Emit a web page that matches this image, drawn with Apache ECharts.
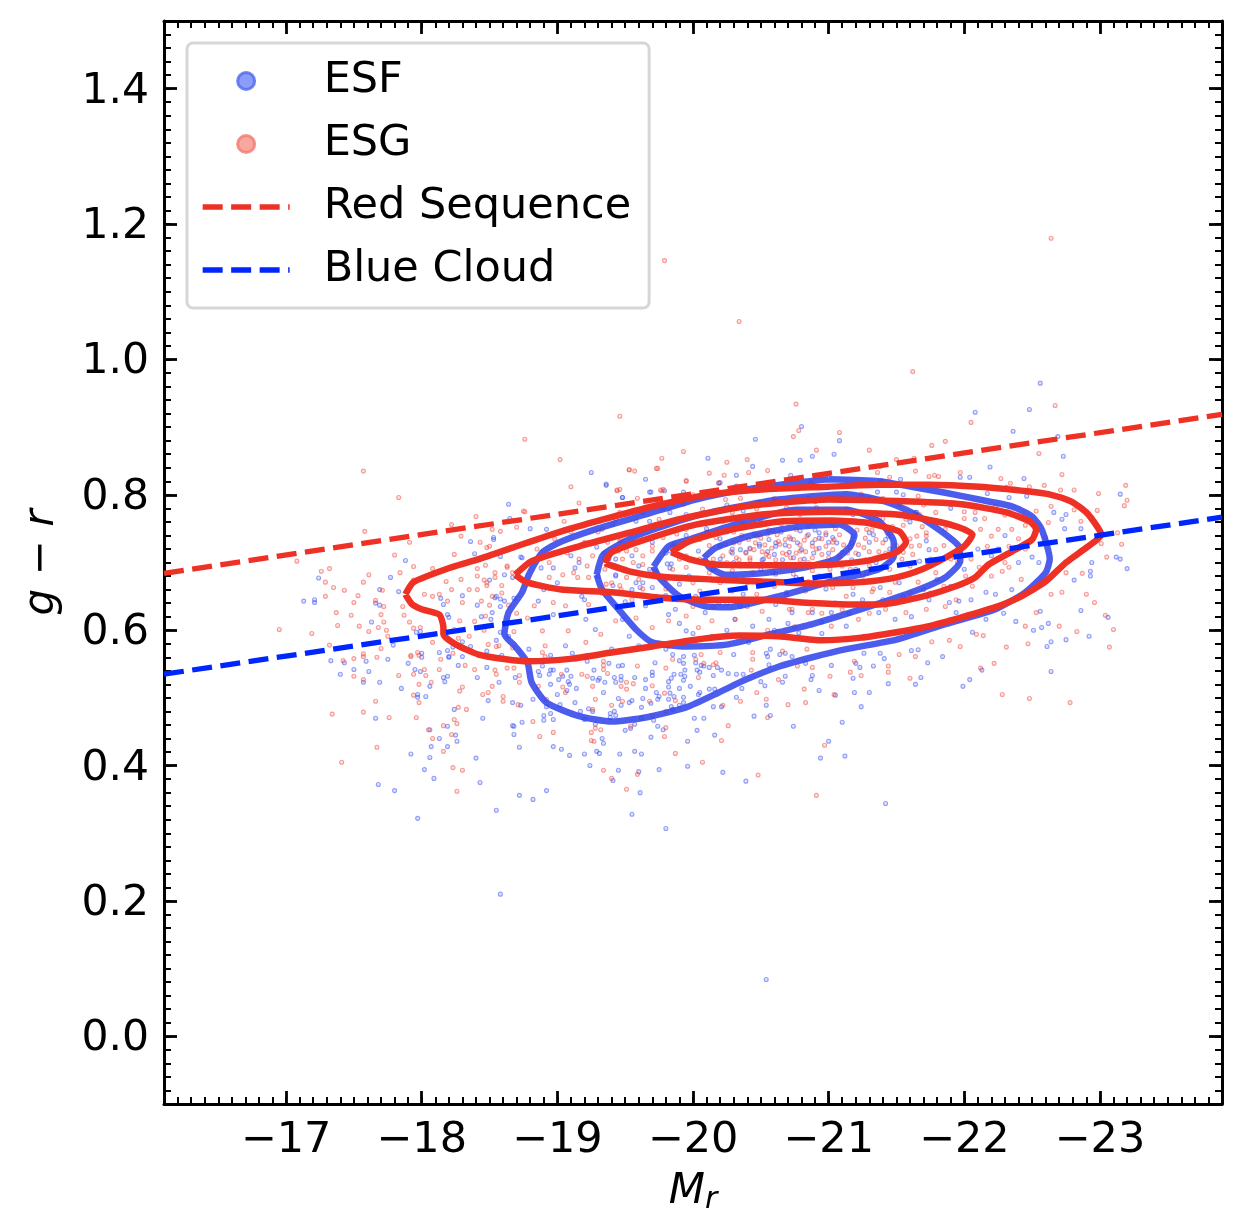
<!DOCTYPE html>
<html>
<head>
<meta charset="utf-8">
<title>g-r vs Mr</title>
<script src="https://cdn.jsdelivr.net/npm/echarts@6/dist/echarts.min.js"></script>
<style>
html, body { margin: 0; background: #fff; }
#chart { width: 1250px; height: 1230px; }
</style>
</head>
<body>
<div id="chart"></div>
<script>
// points as [Mr, g-r]
var esfPoints = [
[-18.64,.786],[-18.65,.765],[-18.36,.731],[-18.53,.734],[-17.88,.703],[-18.39,.713],[-18.58,.709],[-18.73,.708],[-17.24,.677],[-17.77,.678],
[-17.69,.66],[-17.83,.657],[-17.13,.643],[-17.21,.645],[-17.21,.641],[-17.66,.64],[-17.69,.637],[-18.14,.647],[-18.16,.638],[-18.30,.651],
[-18.41,.637],[-18.50,.674],[-18.61,.682],[-18.67,.678],[-18.55,.65],[-18.61,.643],[-18.68,.647],[-18.58,.635],[-18.52,.626],[-18.19,.623],
[-18.20,.619],[-18.44,.62],[-17.63,.612],[-17.99,.598],[-17.96,.597],[-17.79,.578],[-18.13,.567],[-18.19,.57],[-18.20,.561],[-18.00,.566],
[-18.48,.569],[-18.58,.597],[-18.64,.591],[-18.55,.585],[-18.36,.576],[-18.23,.575],[-18.30,.583],
[-17.33,.555],[-17.43,.552],[-17.59,.554],[-17.75,.557],[-17.90,.551],[-18.00,.56],[-17.50,.542],[-17.40,.535],[-17.61,.539],[-17.57,.523],
[-17.69,.523],[-17.85,.514],[-17.95,.542],[-17.99,.539],[-18.16,.53],[-18.19,.532],[-18.17,.524],[-18.06,.517],[-17.97,.505],[-17.97,.501],
[-18.03,.502],[-18.27,.548],[-18.20,.56],[-18.30,.561],[-18.41,.53],[-18.57,.523],[-18.49,.496],[-18.67,.493],[-18.73,.489],[-18.82,.498],
[-18.69,.53],[-18.48,.545],[-17.66,.47],[-18.24,.483],[-18.45,.47],[-18.19,.458],[-18.67,.459],[-18.68,.458],[-18.74,.464],[-18.25,.445],
[-18.26,.436],[-18.68,.446],[-18.06,.453],[-18.13,.44],[-18.07,.428],[-18.19,.428],[-18.72,.427],[-17.92,.417],[-18.06,.412],[-18.40,.411],
[-18.02,.394],[-18.09,.381],[-18.43,.375],[-17.68,.372],[-17.80,.363],[-17.97,.322],[-18.55,.334],[-18.72,.356],[-18.82,.35],[-18.92,.363],
[-18.97,.428],[-19.03,.424],[-19.09,.415],[-19.20,.417],[-19.29,.421],[-19.31,.418],[-19.24,.4],[-19.33,.44],[-19.34,.433],[-18.97,.468],
[-18.90,.474],[-18.90,.467],[-18.95,.477],[-19.13,.493],[-19.02,.49],[-18.92,.487],[-19.17,.48],[-19.23,.484],[-19.20,.468],[-19.26,.48],
[-19.28,.461],[-19.39,.477],[-19.42,.48],[-19.34,.508],[-19.14,.514],[-19.00,.505],[-19.07,.511],[-19.09,.52],[-19.08,.524],[-18.95,.52],
[-19.01,.527],[-19.04,.532],[-19.10,.532],[-18.94,.535],[-18.87,.533],[-18.86,.539],[-18.95,.541],[-18.97,.541],[-19.07,.541],[-19.27,.541],
[-19.26,.529],[-19.30,.526],[-19.31,.529],[-19.35,.523],[-19.43,.523],[-19.42,.53],[-19.38,.551],[-19.22,.554],[-19.11,.566],[-18.95,.563],
[-18.89,.547],[-18.59,.563],
[-19.45,.547],[-19.48,.548],[-19.47,.532],[-19.47,.526],[-19.57,.53],[-19.65,.527],[-19.65,.514],[-19.45,.499],[-19.63,.499],[-19.53,.493],
[-19.55,.496],[-19.69,.492],[-19.47,.489],[-19.62,.486],[-19.43,.474],[-19.39,.471],[-19.62,.47],[-19.57,.461],[-19.71,.467],[-19.74,.458],
[-19.78,.453],[-19.50,.452],[-19.54,.455],[-19.69,.442],[-19.46,.417],[-19.57,.421],[-19.62,.417],[-19.45,.393],[-19.60,.391],[-19.75,.394],
[-19.41,.378],[-19.61,.36],[-19.55,.328],[-19.80,.307],[-19.96,.399],[-19.96,.436],[-20.03,.452],[-20.16,.445],[-20.01,.47],[-20.08,.47],
[-20.22,.39],[-20.39,.377],[-20.45,.473],[-20.57,.474],[-20.74,.458],[-21.10,.464],[-21.00,.436],[-20.94,.411],[-21.12,.414],[-21.42,.344],
[-21.24,.487],[-21.05,.504],[-21.19,.508],[-21.30,.508],[-20.93,.511],[-20.87,.527],[-20.88,.533],[-20.66,.523],[-20.68,.532],[-20.53,.518],
[-20.50,.524],[-20.32,.501],[-20.54,.489],[-20.21,.487],[-20.15,.487],[-20.36,.514],[-20.16,.513],[-20.12,.513],[-20.05,.508],[-20.04,.505],
[-19.98,.517],[-19.90,.514],[-19.82,.516],[-19.82,.524],[-19.84,.529],[-19.93,.526],[-19.94,.532],[-19.91,.535],[-19.86,.535],[-19.70,.538],
[-19.70,.533],[-19.73,.508],[-19.75,.502],[-19.74,.498],[-19.82,.498],[-19.83,.507],[-19.86,.502],[-19.93,.501],[-19.93,.493],[-19.84,.487],
[-19.90,.489],[-19.85,.483],[-19.72,.552],[-19.90,.555],[-19.93,.551],[-19.85,.564],[-19.93,.561],[-20.02,.552],[-20.06,.548],[-19.94,.541],
[-20.03,.541],[-20.05,.538],[-20.12,.545],[-20.08,.547],[-20.18,.545],[-20.21,.541],[-20.15,.533],[-20.26,.536],[-20.32,.535],[-20.37,.535],
[-20.30,.564],[-20.01,.563],[-20.56,.549],[-20.54,.566],[-20.55,.561],[-20.64,.564],[-20.68,.566],[-20.73,.561],[-20.83,.551],[-21.02,.548],
[-21.20,.551],[-21.23,.545],[-21.33,.547],[-21.18,.529],[-21.44,.521],[-21.64,.52],[-21.41,.558],[-21.61,.57],[-21.26,.566],[-21.38,.566],
[-19.25,.833],[-19.36,.814],[-19.65,.823],[-19.68,.804],[-19.79,.806],[-19.48,.796],[-19.93,.804],[-20.11,.854],[-20.19,.817],[-20.32,.829],
[-20.44,.842],[-20.46,.882],[-20.80,.901],[-20.66,.851],[-20.79,.851],[-20.88,.857],[-21.04,.86],[-21.08,.88],[-20.72,.829],[-20.83,.813],
[-22.56,.965],[-22.48,.926],[-22.08,.922],[-22.36,.894],[-22.69,.886],[-22.73,.857],[-22.19,.841],[-21.97,.826],[-22.04,.826],[-22.44,.824],
[-21.53,.823],[-21.39,.821],[-23.15,.801],[-22.31,.811],[-21.50,.804],[-21.36,.804],[-22.17,.802],
[-23.12,.708],[-23.15,.705],[-23.20,.691],[-23.06,.619],[-22.92,.591],[-22.75,.586],[-22.86,.629],[-22.64,.539],[-22.64,.583],[-22.61,.576],
[-22.62,.61],[-22.57,.604],[-22.51,.6],[-22.56,.628],[-22.38,.613],[-22.29,.625],[-22.16,.616],[-22.06,.597],[-22.04,.527],[-21.99,.517],
[-22.13,.541],[-21.84,.561],[-21.73,.552],[-21.68,.53],[-21.66,.571],[-22.81,.674],[-22.93,.687],[-22.93,.68],[-22.94,.7],[-22.86,.75],
[-22.74,.75],[-22.72,.764],[-22.75,.771],[-22.66,.774],[-22.46,.798],[-22.33,.796],[-22.55,.7],[-22.50,.708],[-22.23,.653],[-22.16,.656],
[-22.08,.764],[-22.05,.645],[-21.94,.626],[-21.89,.641],[-21.96,.643],[-21.74,.645],[-21.61,.62],[-21.49,.616],[-21.37,.626],[-21.13,.606],
[-20.95,.612],[-20.88,.626],[-21.02,.626],[-21.74,.719],[-21.83,.705],[-21.64,.774],
[-20.35,.719],[-20.29,.714],[-20.49,.724],[-20.56,.734],[-20.68,.726],[-20.77,.729],[-20.85,.741],[-20.93,.736],[-20.98,.741],[-20.80,.719],
[-20.89,.714],[-20.74,.707],[-20.66,.704],[-20.51,.704],[-21.06,.729],[-21.0,.714],[-20.93,.721],[-20.61,.724],[-20.42,.721],[-20.55,.716],
[-21.30,.744],[-21.33,.741],[-21.22,.712],[-21.17,.729],[-21.42,.734],[-21.17,.704],
[-19.36,.816],[-19.48,.796],[-19.69,.804],[-20.20,.818],[-20.32,.813],[-19.38,.705],[-19.43,.68],[-19.41,.666],[-19.61,.663],[-19.70,.663],
[-19.81,.698],[-19.84,.698],[-19.68,.69],[-19.86,.727],[-19.83,.717],[-20.04,.717],[-20.20,.725],[-20.29,.72],[-20.49,.727],[-20.61,.729],
[-20.79,.747],[-20.93,.744],[-21.03,.737],[-20.88,.729],[-20.71,.715],[-20.52,.705],[-20.39,.715],[-20.20,.705],[-21.18,.739],[-21.30,.73],
[-21.44,.739],[-21.47,.712],[-21.28,.685],[-21.11,.683],[-20.93,.68],[-20.76,.678],[-20.61,.683],[-20.37,.675],[-20.20,.675],[-19.97,.68],
[-19.90,.668],[-19.80,.651],[-19.63,.651],[-21.38,.663],[-21.52,.67],[-21.18,.653],[-20.98,.661],[-20.69,.656],[-20.88,.641],[-20.61,.638],
[-20.37,.653],[-21.67,.702],[-21.72,.732],[-21.65,.774],[-21.38,.771],[-21.18,.771],[-20.88,.774],[-20.69,.774],[-20.49,.789],[-20.37,.776],
[-19.95,.771],[-19.83,.774],[-19.68,.761],[-19.58,.761],[-19.43,.764],[-19.43,.705],
[-18.92,.749],[-18.80,.75],[-18.74,.707],[-18.88,.692],[-18.97,.692],[-19.13,.692],[-19.16,.7],[-19.29,.723],[-19.35,.714],[-19.43,.682],
[-19.58,.67],[-19.63,.67],[-19.83,.692],[-19.80,.714],[-19.92,.724],[-19.18,.65],[-18.86,.643],[-18.97,.623],[-19.31,.631],[-19.21,.616],
[-19.48,.616],[-19.65,.636],[-19.82,.623],[-19.87,.631],[-19.95,.599],[-20.09,.626],[-20.31,.616],[-20.44,.606],[-20.56,.616],[-20.73,.626],
[-20.88,.641],[-20.19,.641],[-20.02,.65],[-19.40,.572],[-19.60,.577],[-19.80,.572],[-20.14,.591],[-20.41,.582],[-20.57,.572],[-20.78,.596],
[-19.53,.591],[-19.28,.601],[-19.06,.577],[-18.79,.572],[-18.51,.616],[-18.54,.648],[-18.58,.646],[-18.53,.737],
[-20.54,.084],[-18.58,.21],
[-19.12,.66],[-19.20,.645],[-19.33,.655],[-19.50,.642],[-19.55,.66],[-19.90,.61],[-20.00,.595],[-20.25,.6],[-20.35,.635],[-20.50,.645],
[-20.60,.6],[-20.70,.61],[-20.95,.595],[-21.05,.64],[-21.15,.625],[-21.25,.645],[-21.40,.645],[-21.55,.65],[-21.70,.66],[-21.80,.675],
[-21.90,.665],[-22.00,.69],[-22.10,.72],[-22.20,.71],[-22.30,.74],[-22.40,.7],[-22.35,.66],[-22.25,.72],[-22.00,.75],[-21.90,.78],
[-21.75,.79],[-21.55,.80],[-21.30,.795],[-21.05,.795],[-20.90,.79],[-20.60,.79],[-20.25,.785],[-20.10,.75],[-19.95,.74],[-19.70,.73],
[-19.55,.71],[-19.60,.695],[-19.30,.68],[-19.10,.71],[-19.00,.67],[-18.90,.66],[-20.45,.742],[-20.60,.712],[-20.72,.735],[-20.82,.705],
[-21.00,.73],[-21.10,.715],[-20.65,.745],[-20.90,.748],[-20.30,.70],[-20.20,.735],[-20.15,.69],[-20.50,.69],[-20.75,.695],[-21.00,.695],
[-21.20,.69],[-21.35,.70],[-21.45,.72],[-21.55,.74],[-21.60,.76],[-21.30,.76],[-21.10,.76],[-20.70,.76],[-20.50,.76],[-20.25,.745]
];
var esgPoints = [
[-17.57,.835],[-17.83,.796],[-18.22,.756],[-18.40,.768],[-18.76,.775],[-17.58,.746],[-18.70,.752],[-18.52,.749],[-18.58,.746],[-18.29,.739],
[-17.91,.73],[-18.43,.73],[-18.50,.724],[-17.08,.702],[-17.80,.711],[-18.24,.712],[-17.94,.694],[-17.26,.687],[-17.32,.691],[-17.61,.682],
[-17.84,.685],[-18.08,.691],[-17.29,.671],[-17.57,.671],[-17.35,.663],[-17.43,.659],[-17.71,.659],[-17.94,.674],[-17.53,.651],[-17.29,.65],
[-17.50,.641],[-17.66,.644],[-17.72,.635],[-17.37,.626],[-17.48,.622],[-17.70,.623],[-17.87,.622],[-17.86,.635],[-16.95,.601],[-17.19,.595],
[-17.38,.607],[-17.54,.606],[-17.72,.612],[-17.61,.598],[-17.68,.604],[-17.74,.6],[-17.91,.612],[-17.99,.604],[-17.94,.603],[-17.32,.578],
[-17.75,.591],[-17.70,.573],[-17.57,.561],[-18.02,.653],[-18.08,.65],[-18.13,.653],[-18.18,.672],[-18.29,.675],[-18.22,.66],[-18.35,.66],
[-18.41,.66],[-18.47,.696],[-18.41,.691],[-18.54,.685],[-18.63,.693],[-18.41,.68],[-18.46,.674],[-18.59,.666],[-18.48,.666],[-18.44,.643],
[-18.50,.637],[-18.30,.641],[-18.19,.643],[-18.28,.614],[-18.39,.613],[-18.46,.6],[-18.64,.637],[-18.70,.625],[-18.68,.598],[-18.55,.576],
[-18.08,.582],[-17.97,.567],[-17.92,.561],[-18.24,.601],[-18.35,.591],[-18.27,.588],
[-17.34,.476],[-17.41,.405],[-17.57,.479],[-17.66,.495],[-17.76,.471],[-17.67,.427],[-17.96,.471],[-17.98,.493],[-17.94,.504],[-17.98,.52],
[-18.07,.523],[-17.50,.532],[-17.57,.527],[-17.50,.558],[-17.42,.555],[-17.57,.565],[-17.67,.56],[-17.83,.533],[-17.94,.535],[-18.03,.533],
[-18.02,.542],[-18.13,.542],[-18.14,.557],[-17.92,.563],[-17.98,.563],[-18.23,.566],[-18.39,.542],[-18.32,.548],[-18.28,.51],[-18.30,.516],
[-18.45,.505],[-18.49,.508],[-18.52,.517],[-18.55,.535],[-18.54,.541],[-18.63,.544],[-18.68,.544],[-18.72,.533],[-18.72,.523],[-18.60,.502],
[-18.60,.495],[-18.71,.49],[-18.33,.483],[-18.27,.486],[-18.24,.468],[-18.26,.462],[-18.16,.459],[-18.05,.453],[-18.08,.44],[-18.22,.446],
[-18.16,.421],[-18.23,.397],[-18.30,.393],[-18.26,.362],[-18.82,.465],[-18.97,.449],[-18.87,.443],[-18.92,.498],[-18.86,.517],[-19.06,.508],
[-19.04,.516],[-19.03,.535],[-19.18,.535],[-19.22,.532],[-19.26,.517],[-19.28,.498],[-19.40,.489],[-19.26,.483],[-19.25,.449],[-19.32,.453],
[-19.28,.455],[-19.25,.437],[-19.27,.436],[-19.34,.393],[-19.40,.381],[-19.34,.542],[-19.37,.536],[-19.34,.554],[-19.34,.548],[-18.89,.567],
[-18.91,.561],
[-19.59,.387],[-19.51,.365],[-19.87,.418],[-20.07,.405],[-20.48,.386],[-20.91,.356],[-20.97,.43],[-20.21,.437],[-20.26,.459],[-20.55,.471],
[-19.79,.443],[-19.80,.456],[-19.70,.474],[-19.80,.48],[-19.87,.496],[-19.68,.495],[-19.79,.507],[-19.70,.518],[-19.56,.521],[-19.51,.513],
[-19.51,.523],[-19.47,.517],[-19.48,.495],[-19.54,.458],[-19.59,.547],[-19.80,.544],[-20.04,.53],[-19.85,.557],[-20.08,.551],[-20.15,.549],
[-20.17,.552],[-20.06,.564],[-20.43,.541],[-20.44,.557],[-20.35,.495],[-20.47,.508],[-20.54,.498],[-20.70,.49],[-20.83,.493],[-20.82,.513],
[-20.63,.527],[-20.88,.545],[-20.77,.547],[-21.01,.532],[-21.16,.538],[-21.24,.533],[-21.04,.505],[-21.44,.538],[-21.44,.547],[-21.60,.529],
[-21.52,.564],[-21.64,.561],[-21.19,.554],[-20.22,.489],
[-18.76,.882],[-19.46,.916],[-19.02,.852],[-20.76,.934],[-20.78,.895],[-20.74,.886],[-21.08,.892],[-19.10,.812],[-19.53,.837],[-19.57,.835],
[-19.73,.839],[-19.77,.854],[-19.93,.864],[-20.25,.848],[-20.40,.852],[-20.12,.832],[-20.23,.829],[-20.41,.833],[-20.55,.836],[-20.91,.866],
[-19.95,.821],[-19.44,.807],[-19.76,.807],[-19.59,.795],[-19.91,.796],[-21.30,.866],[-20.87,.818],[-20.32,.812],
[-21.62,.982],[-22.67,.932],[-22.05,.907],[-21.86,.879],[-21.76,.873],[-21.50,.852],[-21.63,.854],[-22.55,.861],[-21.38,.842],[-21.36,.833],
[-21.64,.835],[-21.97,.833],[-22.72,.83],[-21.45,.826],[-21.74,.827],[-21.78,.829],[-21.81,.827],[-22.27,.824],[-22.34,.817],[-23.19,.814],
[-22.59,.814],[-22.81,.807],[-22.71,.807],[-22.99,.802],[-22.48,.812],
[-22.64,1.179],[-19.79,1.146],[-20.34,1.056],
[-23.13,.744],[-23.05,.708],[-23.18,.784],[-23.20,.792],[-23.16,.727],[-23.01,.728],[-22.90,.653],[-22.96,.641],[-23.04,.622],[-23.10,.601],
[-23.07,.575],[-22.78,.493],[-22.48,.499],[-22.28,.505],[-22.22,.551],[-22.31,.575],[-22.47,.58],[-22.83,.598],[-22.70,.606],[-22.45,.606],
[-22.14,.592],[-22.09,.594],[-21.97,.576],[-21.89,.585],[-21.76,.583],[-22.72,.656],[-22.64,.653],[-22.53,.626],[-22.87,.684],[-22.75,.685],
[-22.42,.675],[-22.28,.687],[-22.12,.544],[-22.86,.761],[-22.98,.777],[-22.81,.778],[-22.64,.783],[-22.53,.776],[-22.62,.759],[-22.79,.734],
[-22.60,.737],[-22.08,.774],[-22.25,.749],[-22.20,.739],[-22.35,.749],[-22.33,.724],[-22.12,.749],[-22.17,.724],[-22.11,.693],[-22.33,.693],
[-22.01,.68],[-22.06,.665],[-21.94,.645],[-21.86,.635],[-21.72,.631],[-21.57,.626],[-21.42,.631],[-21.22,.616],[-21.02,.606],[-20.85,.626],
[-20.73,.631],[-21.13,.65],[-21.32,.657],[-21.49,.671],[-21.66,.671],[-21.79,.685],[-21.72,.739],[-21.61,.724],[-21.79,.719],[-21.69,.753],
[-21.86,.749],[-21.57,.764],[-21.47,.753],[-21.52,.786],[-21.66,.798],[-21.24,.801],[-21.96,.786],[-21.79,.774],[-22.23,.783],
[-20.41,.734],[-20.46,.729],[-20.50,.736],[-20.53,.726],[-20.45,.719],[-20.39,.714],[-20.51,.716],[-20.58,.721],[-20.63,.731],[-20.68,.734],
[-20.62,.741],[-20.66,.714],[-20.71,.724],[-20.79,.726],[-20.76,.714],[-20.83,.716],[-20.88,.724],[-20.90,.734],[-20.98,.724],[-21.04,.734],
[-21.03,.719],[-21.08,.741],[-20.95,.712],[-20.56,.709],[-20.61,.704],[-20.42,.704],[-20.34,.704],[-20.28,.716],[-20.30,.729],[-20.72,.707],
[-20.79,.704],[-20.88,.707],[-21.00,.707],[-21.11,.726],[-21.14,.714],[-21.20,.714],[-21.22,.726],[-21.27,.736],[-21.35,.734],[-21.40,.729],
[-21.30,.716],[-21.37,.716],[-21.42,.714],[-21.27,.704],[-21.21,.748],[-21.32,.748],[-20.49,.741],[-20.56,.748],
[-19.46,.732],[-19.56,.729],[-19.63,.734],[-19.48,.705],[-19.56,.7],[-19.63,.71],[-19.70,.717],[-19.78,.737],[-19.88,.742],[-19.95,.749],
[-20.10,.759],[-20.22,.761],[-20.37,.757],[-20.47,.739],[-20.59,.747],[-20.76,.749],[-20.88,.759],[-21.03,.757],[-21.28,.749],[-21.43,.744],
[-21.65,.739],[-21.67,.725],[-21.72,.744],[-21.62,.712],[-21.54,.705],[-21.45,.69],[-21.33,.69],[-21.16,.69],[-21.01,.69],[-20.88,.688],
[-20.74,.683],[-20.59,.685],[-20.44,.685],[-20.29,.688],[-20.12,.685],[-19.95,.693],[-19.85,.69],[-19.70,.683],[-19.60,.683],[-21.03,.663],
[-21.18,.663],[-21.33,.661],[-21.45,.656],[-20.83,.658],[-20.69,.653],[-20.47,.653],[-20.29,.658],[-20.05,.658],[-19.80,.661],[-19.63,.661],
[-19.46,.666],[-19.36,.668],[-19.46,.774],[-19.63,.774],[-19.78,.781],[-19.93,.786],[-20.07,.779],[-20.24,.793],[-20.47,.779],[-20.69,.781],
[-20.91,.781],[-21.13,.779],[-21.35,.774],[-21.52,.769],[-21.67,.771],[-20.29,.774],[-20.79,.771],[-19.35,.705],[-19.37,.73],[-19.41,.757],
[-19.33,.749],[-19.46,.808],[-19.78,.808],[-19.51,.717],[-19.75,.764],[-20.17,.737],[-20.24,.727],[-20.34,.73],[-20.42,.72],[-20.12,.725],
[-20.05,.734],[-20.22,.71],[-20.32,.707],[-20.42,.707],[-20.54,.712],[-20.64,.727],[-20.74,.734],[-20.84,.739],[-20.98,.744],[-20.91,.72],
[-21.03,.73],[-20.79,.717],[-20.69,.712],
[-18.94,.7],[-19.07,.714],[-19.16,.705],[-19.26,.71],[-19.22,.695],[-19.04,.682],[-18.94,.678],[-19.15,.678],[-19.23,.678],[-19.47,.734],
[-19.40,.67],[-19.51,.678],[-19.60,.675],[-19.45,.717],[-19.58,.719],[-19.70,.724],[-19.85,.724],[-19.63,.697],[-19.72,.687],[-18.83,.636],
[-18.97,.641],[-19.06,.636],[-19.23,.638],[-18.67,.611],[-18.78,.618],[-18.89,.599],[-19.08,.599],[-19.21,.582],[-19.32,.594],[-19.43,.614],
[-19.58,.618],[-19.70,.604],[-19.82,.614],[-19.95,.621],[-20.14,.614],[-20.31,.616],[-20.51,.628],[-20.71,.631],[-20.88,.631],[-20.04,.604],
[-19.82,.577],[-20.02,.557],[-20.20,.567],[-20.44,.567],[-20.66,.569],[-20.84,.572],[-18.91,.577],[-18.67,.574],[-18.57,.577],[-18.49,.579],
[-18.47,.621],[-18.52,.65],[-18.59,.655],[-18.48,.67],[-18.54,.678],[-18.67,.685],[-18.63,.695],[-18.48,.722],[-18.75,.776],[-19.05,.761],
[-19.16,.788],[-19.31,.761],[-19.44,.806],[-19.77,.806],[-19.74,.839],[-19.53,.837],[-19.95,.82],[-20.19,.818],
[-18.85,.72],[-18.98,.735],[-19.10,.745],[-19.20,.73],[-19.30,.745],[-19.12,.685],[-19.35,.69],[-19.47,.66],[-19.55,.645],[-19.70,.645],
[-19.88,.645],[-20.00,.635],[-20.15,.635],[-20.25,.64],[-20.40,.635],[-20.55,.60],[-20.75,.605],[-20.95,.625],[-21.10,.63],[-21.30,.625],
[-21.50,.64],[-21.60,.655],[-21.75,.655],[-21.85,.665],[-21.95,.70],[-22.05,.705],[-22.20,.68],[-22.40,.735],[-22.45,.72],[-22.30,.70],
[-22.15,.765],[-22.00,.765],[-21.85,.725],[-21.90,.705],[-21.75,.705],[-21.60,.695],[-21.45,.675],[-21.25,.68],[-21.05,.675],[-20.85,.672],
[-20.60,.665],[-20.40,.67],[-20.20,.67],[-20.00,.67],[-19.80,.675],[-20.15,.705],[-20.05,.705],[-19.95,.71],[-19.90,.705],[-20.10,.745],
[-20.30,.745],[-20.50,.755],[-20.65,.757],[-20.85,.755],[-21.05,.75],[-21.20,.76],[-21.40,.765],[-21.55,.755],[-21.60,.735],[-21.50,.725],
[-21.55,.715],[-21.45,.70],[-21.30,.695],[-21.10,.695],[-20.95,.698],[-20.70,.695],[-20.50,.698],[-20.35,.695],[-20.95,.735],[-20.82,.733],
[-20.71,.738],[-20.55,.742],[-20.36,.74],[-20.85,.70],[-20.60,.695],[-21.08,.708],[-21.16,.722],[-21.26,.722],[-21.36,.705],[-20.25,.70],
[-20.00,.80],[-20.35,.795],[-20.60,.795],[-20.85,.795],[-21.10,.795],[-21.40,.795],[-21.70,.785],[-22.00,.775],[-22.30,.77],[-22.45,.755]
];

// density contours, each ring traced once round
var esfLevel1 = [[-21.00,.823],[-20.76,.818],[-20.39,.808],[-20.02,.793],[-19.65,.771],[-19.28,.749],[-19.03,.731],[-18.89,.715],[-18.79,.682],[-18.74,.656],[-18.64,.626],[-18.61,.594],[-18.69,.576],[-18.78,.552],[-18.81,.523],[-18.92,.493],[-19.16,.473],[-19.40,.465],[-19.65,.471],[-19.95,.486],[-20.19,.508],[-20.39,.527],[-20.63,.546],[-20.88,.56],[-21.13,.572],[-21.50,.586],[-21.86,.609],[-22.23,.631],[-22.45,.656],[-22.60,.685],[-22.63,.705],[-22.57,.749],[-22.50,.768],[-22.35,.783],[-22.11,.793],[-21.86,.803],[-21.61,.812],[-21.37,.82]];
var esfLevel2 = [[-19.29,.682],[-19.34,.712],[-19.60,.741],[-20.04,.77],[-20.63,.793],[-21.13,.801],[-21.42,.79],[-21.61,.774],[-21.81,.749],[-21.96,.724],[-21.97,.702],[-21.86,.678],[-21.61,.656],[-21.24,.631],[-20.88,.609],[-20.63,.597],[-20.26,.579],[-19.95,.576],[-19.70,.582],[-19.58,.601],[-19.45,.631],[-19.33,.66]];
var esfLevel3 = [[-19.71,.694],[-19.82,.724],[-19.97,.734],[-20.39,.761],[-20.76,.778],[-21.13,.778],[-21.37,.761],[-21.48,.73],[-21.48,.709],[-21.37,.69],[-21.00,.671],[-20.63,.65],[-20.26,.634],[-20.10,.635],[-19.90,.65],[-19.75,.678]];
var esfLevel4 = [[-20.08,.707],[-20.17,.722],[-20.41,.739],[-20.78,.753],[-21.08,.756],[-21.19,.741],[-21.16,.724],[-21.05,.705],[-20.83,.693],[-20.54,.685],[-20.24,.682],[-20.12,.693]];
var esgLevel1 = [[-17.88,.653],[-17.94,.671],[-18.22,.693],[-18.42,.705],[-18.67,.722],[-19.03,.746],[-19.40,.767],[-19.77,.786],[-20.14,.801],[-20.51,.808],[-21.00,.812],[-21.37,.815],[-21.74,.815],[-22.11,.812],[-22.48,.805],[-22.62,.801],[-22.79,.79],[-22.90,.774],[-22.98,.753],[-23.01,.741],[-22.90,.722],[-22.75,.70],[-22.60,.672],[-22.42,.65],[-22.23,.634],[-21.98,.619],[-21.74,.606],[-21.50,.597],[-21.24,.589],[-20.95,.585],[-20.63,.591],[-20.34,.592],[-20.02,.586],[-19.70,.576],[-19.40,.567],[-19.11,.558],[-18.79,.554],[-18.62,.557],[-18.42,.564],[-18.25,.579],[-18.16,.594],[-18.16,.604],[-18.13,.623],[-18.00,.631],[-17.93,.638]];
var esgLevel2 = [[-18.69,.682],[-18.81,.702],[-19.16,.724],[-19.53,.744],[-19.90,.764],[-20.39,.783],[-21.00,.793],[-21.61,.79],[-21.98,.786],[-22.31,.774],[-22.48,.761],[-22.53,.749],[-22.50,.734],[-22.35,.716],[-22.18,.697],[-22.08,.678],[-21.91,.663],[-21.66,.648],[-21.37,.638],[-21.13,.638],[-20.88,.64],[-20.51,.645],[-20.14,.645],[-19.77,.648],[-19.40,.656],[-19.03,.66],[-18.77,.671]];
var esgLevel3 = [[-19.35,.699],[-19.40,.715],[-19.65,.734],[-20.02,.756],[-20.51,.771],[-21.00,.775],[-21.50,.771],[-21.79,.761],[-21.96,.752],[-22.06,.741],[-22.00,.724],[-21.86,.707],[-21.69,.69],[-21.50,.678],[-21.24,.671],[-20.93,.669],[-20.51,.672],[-20.14,.675],[-19.77,.679],[-19.53,.687]];
var esgLevel4 = [[-19.84,.715],[-19.97,.731],[-20.29,.749],[-20.66,.761],[-21.02,.762],[-21.27,.759],[-21.52,.746],[-21.57,.73],[-21.50,.715],[-21.27,.702],[-20.91,.696],[-20.54,.696],[-20.17,.697],[-19.97,.705]];

// fitted sequences
var redSequence = [[-16.1,.684],[-23.9,.919]];
var blueCloud = [[-16.1,.535],[-23.9,.767]];

var xTicks = [-17,-18,-19,-20,-21,-22,-23];
var yTicks = [0,0.2,0.4,0.6,0.8,1.0,1.2,1.4];

var FONT = 'DejaVu Sans';
var RED = '#ee3124';
var CONTOUR_BLUE = 'rgba(45,65,235,0.85)';

var chart = echarts.init(document.getElementById('chart'), null, { renderer: 'canvas' });

// each side needs one axis for the major ticks and one for the minor ones
function xAxis(position, major) {
    return {
        type: 'value', position: position, inverse: true, min: -23.9, max: -16.1,
        interval: major ? 1 : 0.1,
        name: major && position === 'bottom' ? '{i|M}{s|r}' : '',
        nameLocation: 'middle', nameGap: 65,
        nameTextStyle: { rich: {
            i: { fontFamily: FONT, fontStyle: 'italic', fontSize: 42, color: '#000' },
            s: { fontFamily: FONT, fontStyle: 'italic', fontSize: 30, color: '#000', padding: [16, 0, 0, 0] }
        } },
        splitLine: { show: false },
        axisLine: { show: major, onZero: false, lineStyle: { color: '#000', width: 3 } },
        axisTick: { inside: true, length: major ? 13 : 7, lineStyle: { color: '#000', width: major ? 2.8 : 2 }, customValues: major ? xTicks : undefined },
        axisLabel: {
            show: major && position === 'bottom', customValues: xTicks, margin: 15,
            fontFamily: FONT, fontSize: 43, color: '#000',
            formatter: function (v) { return '\u2212' + Math.abs(v); }
        }
    };
}
function yAxis(position, major) {
    return {
        type: 'value', position: position, min: -0.1, max: 1.5,
        interval: major ? 0.2 : 0.02,
        name: major && position === 'left' ? '{i|g} \u2212 {i|r}' : '',
        nameLocation: 'middle', nameGap: 101, nameRotate: 90,
        nameTextStyle: { fontFamily: FONT, fontSize: 42, color: '#000', rich: {
            i: { fontFamily: FONT, fontStyle: 'italic', fontSize: 42, color: '#000' }
        } },
        splitLine: { show: false },
        axisLine: { show: major, onZero: false, lineStyle: { color: '#000', width: 3 } },
        axisTick: { inside: true, length: major ? 13 : 7, lineStyle: { color: '#000', width: major ? 2.8 : 2 }, customValues: major ? yTicks : undefined },
        axisLabel: {
            show: major && position === 'left', customValues: yTicks, margin: 15,
            fontFamily: FONT, fontSize: 42.5, color: '#000',
            // pushed down a little so the digits sit centred on the tick
            verticalAlign: 'top', lineHeight: 6,
            formatter: function (v) { return v.toFixed(1); }
        }
    };
}

function points(name, data, rgb) {
    return {
        name: name, type: 'scatter', data: data, symbolSize: 4, z: 2,
        itemStyle: { color: 'rgba(' + rgb + ',0.18)', borderColor: 'rgba(' + rgb + ',0.6)', borderWidth: 1.1 }
    };
}
function contour(name, ring, color, z) {
    return {
        name: name, type: 'line', data: ring.concat([ring[0]]), symbol: 'none', smooth: 0.2, z: z,
        lineStyle: { color: color, width: 6.5 }
    };
}
function sequence(name, data, color) {
    return {
        name: name, type: 'line', data: data, symbol: 'none', z: 5,
        lineStyle: { color: color, width: 5.3, type: [20, 8.5] }, itemStyle: { color: color }
    };
}

chart.setOption({
    animation: false,
    backgroundColor: '#fff',
    grid: { left: 164, top: 21, width: 1058, height: 1083 },
    xAxis: [xAxis('bottom', true), xAxis('bottom', false), xAxis('top', true), xAxis('top', false)],
    yAxis: [yAxis('left', true), yAxis('left', false), yAxis('right', true), yAxis('right', false)],
    legend: {
        left: 187, top: 43, orient: 'vertical', z: 20,
        padding: [14, 18, 14, 13], itemGap: 15, itemWidth: 87, itemHeight: 17,
        backgroundColor: '#fff', borderColor: '#d6d6d6', borderWidth: 3, borderRadius: 6,
        textStyle: { fontFamily: FONT, fontSize: 43, color: '#000', lineHeight: 48, padding: [0, 0, 0, 29] },
        selectedMode: false,
        data: [
            { name: 'ESF', icon: 'circle', itemStyle: { color: '#6f83f7', borderColor: '#4f68f0', borderWidth: 3 } },
            { name: 'ESG', icon: 'circle', itemStyle: { color: '#f6928a', borderColor: '#f27a70', borderWidth: 3 } },
            { name: 'Red Sequence', lineStyle: { width: 5.3 }, itemStyle: { opacity: 0 } },
            { name: 'Blue Cloud', lineStyle: { width: 5.3 }, itemStyle: { opacity: 0 } }
        ]
    },
    series: [
        points('ESF', esfPoints, '40,65,240'),
        points('ESG', esgPoints, '238,60,50'),
        contour('ESF level 1', esfLevel1, CONTOUR_BLUE, 3),
        contour('ESF level 2', esfLevel2, CONTOUR_BLUE, 3),
        contour('ESF level 3', esfLevel3, CONTOUR_BLUE, 3),
        contour('ESF level 4', esfLevel4, CONTOUR_BLUE, 3),
        contour('ESG level 1', esgLevel1, RED, 4),
        contour('ESG level 2', esgLevel2, RED, 4),
        contour('ESG level 3', esgLevel3, RED, 4),
        contour('ESG level 4', esgLevel4, RED, 4),
        sequence('Red Sequence', redSequence, RED),
        sequence('Blue Cloud', blueCloud, '#0026ff')
    ]
});
</script>
</body>
</html>
